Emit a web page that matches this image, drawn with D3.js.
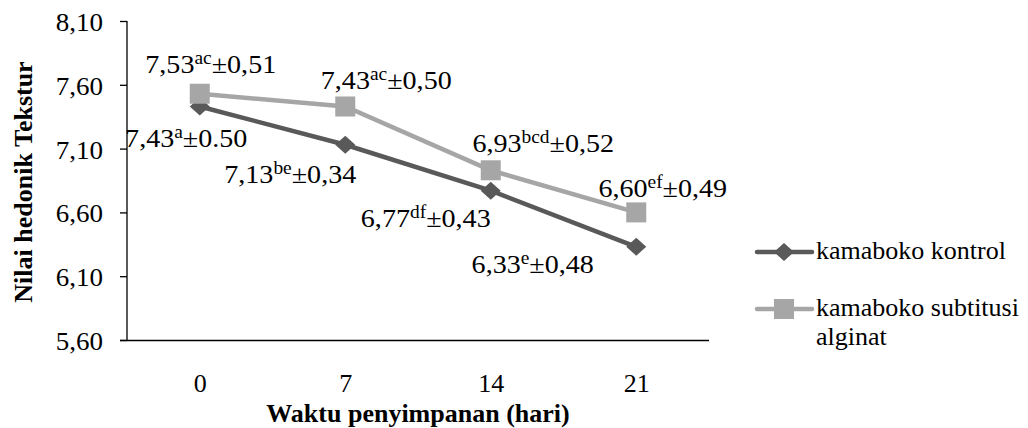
<!DOCTYPE html>
<html><head><meta charset="utf-8">
<script src="https://cdn.jsdelivr.net/npm/d3@7"></script>
<style>
html,body{margin:0;padding:0;background:#fff;}
</style></head>
<body><svg id="c" width="1028" height="428"></svg>
<script>
const categories = ["0","7","14","21"];
const kontrol = [7.43, 7.13, 6.77, 6.33];
const alginat = [7.53, 7.43, 6.93, 6.60];
const kontrolSup = ["a","be","df","e"];
const kontrolSd = ["0.50","0,34","0,43","0,48"];
const alginatSup = ["ac","ac","bcd","ef"];
const alginatSd = ["0,51","0,50","0,52","0,49"];
const yTicks = [5.6, 6.1, 6.6, 7.1, 7.6, 8.1];
const seriesNames = ["kamaboko kontrol", "kamaboko subtitusi alginat"];
const yTitle = "Nilai hedonik Tekstur";
const xTitle = "Waktu penyimpanan (hari)";

// layout offsets for labels (relative to point): [dx, dy]
const kontrolOff = [[-13.5,40.5],[-55,38],[-65,36],[-103.5,26]];
const alginatOff = [[11,-21],[41,-17.5],[52.5,-18],[26.5,-15]];

const FONT = "Liberation Serif";
const FS = 26, LSX = 1.08;
const svg = d3.select("#c");
const L = 127, R = 709, T = 21, B = 340;
const x = d3.scalePoint().domain(categories).range([L, R]).padding(0.5);
const y = d3.scaleLinear().domain([5.6, 8.1]).range([B, T]);
const fmt = v => d3.format(".2f")(v).replace(".", ",");

function txt(sel, size, anchor) {
  return sel.append("text").style("font-family", "'" + FONT + "'")
    .style("font-size", size + "px").attr("text-anchor", anchor || "start").attr("fill", "#000");
}

// axes
const yAxis = svg.append("g").attr("transform", `translate(${L},0)`)
  .call(d3.axisLeft(y).tickValues(yTicks).tickFormat(fmt).tickSize(7).tickPadding(0));
yAxis.select(".domain").remove();
yAxis.selectAll(".tick line").attr("stroke", "#000").attr("stroke-width", 1.3);
yAxis.selectAll(".tick text").remove();
yAxis.selectAll(".tick").each(function(d) {
  const g = d3.select(this).append("g").attr("transform", "translate(-24,9.5) scale(1.04,1)");
  txt(g, FS, "end").text(fmt(d));
});

svg.append("line").attr("x1", L).attr("x2", L).attr("y1", T).attr("y2", B)
  .attr("stroke", "#000").attr("stroke-width", 1.3);
const xAxis = svg.append("g").attr("transform", `translate(0,${B})`)
  .call(d3.axisBottom(x).tickSize(0).tickPadding(0));
xAxis.select(".domain").attr("d", `M${L - 7},0.5H${R}`).attr("stroke", "#000").attr("stroke-width", 1.3);
xAxis.selectAll(".tick text").remove();
xAxis.selectAll(".tick").each(function(d) {
  const g = d3.select(this).append("g").attr("transform", "translate(0,52)");
  txt(g, FS, "middle").text(d);
});

// titles
txt(svg.append("g").attr("transform", `translate(${(L + R) / 2},422)`), FS, "middle")
  .style("font-weight", "bold").text(xTitle);
txt(svg.append("g").attr("transform", `translate(32,182) rotate(-90)`), FS, "middle")
  .style("font-weight", "bold").text(yTitle);

const dark = "#595959", light = "#A6A6A6";
const line = d3.line().x((d, i) => x(categories[i])).y(d => y(d));

svg.append("path").datum(alginat).attr("d", line).attr("fill", "none")
  .attr("stroke", light).attr("stroke-width", 4.5);
svg.append("path").datum(kontrol).attr("d", line).attr("fill", "none")
  .attr("stroke", dark).attr("stroke-width", 4.5);

const diamond = "M0,-9L10,0L0,9L-10,0Z";
svg.selectAll(".dk").data(kontrol).join("path")
  .attr("transform", (d, i) => `translate(${x(categories[i])},${y(d)})`)
  .attr("d", diamond).attr("fill", dark);
svg.selectAll(".sq").data(alginat).join("rect")
  .attr("x", (d, i) => x(categories[i]) - 10).attr("y", d => y(d) - 10)
  .attr("width", 20).attr("height", 20).attr("fill", light);

function label(px, py, off, val, sup, sd) {
  const g = svg.append("g").attr("transform", `translate(${px + off[0]},${py + off[1]}) scale(${LSX},1)`);
  const t = txt(g, FS, "middle");
  t.append("tspan").text(fmt(val));
  t.append("tspan").style("font-size", "18px").attr("dy", -9).text(sup);
  t.append("tspan").attr("dy", 9).text("±" + sd);
}
kontrol.forEach((v, i) => label(x(categories[i]), y(v), kontrolOff[i], v, kontrolSup[i], kontrolSd[i]));
alginat.forEach((v, i) => label(x(categories[i]), y(v), alginatOff[i], v, alginatSup[i], alginatSd[i]));

// legend
const lg = svg.append("g");
const legendRows = [
  {y: 252, color: dark, shape: "d", lines: [seriesNames[0]]},
  {y: 309, color: light, shape: "s", lines: ["kamaboko subtitusi", "alginat"]}
];
legendRows.forEach(r => {
  lg.append("line").attr("x1", 757).attr("x2", 812).attr("y1", r.y).attr("y2", r.y)
    .attr("stroke", r.color).attr("stroke-width", 4.5).attr("stroke-linecap", "round");
  if (r.shape === "d") lg.append("path").attr("transform", `translate(784,${r.y})`).attr("d", diamond).attr("fill", r.color);
  else lg.append("rect").attr("x", 774).attr("y", r.y - 10).attr("width", 20).attr("height", 20).attr("fill", r.color);
  r.lines.forEach((s, k) => {
    txt(lg.append("g").attr("transform", `translate(816,${r.y + 7 + k * 29})`), FS).text(s);
  });
});
</script></body></html>
